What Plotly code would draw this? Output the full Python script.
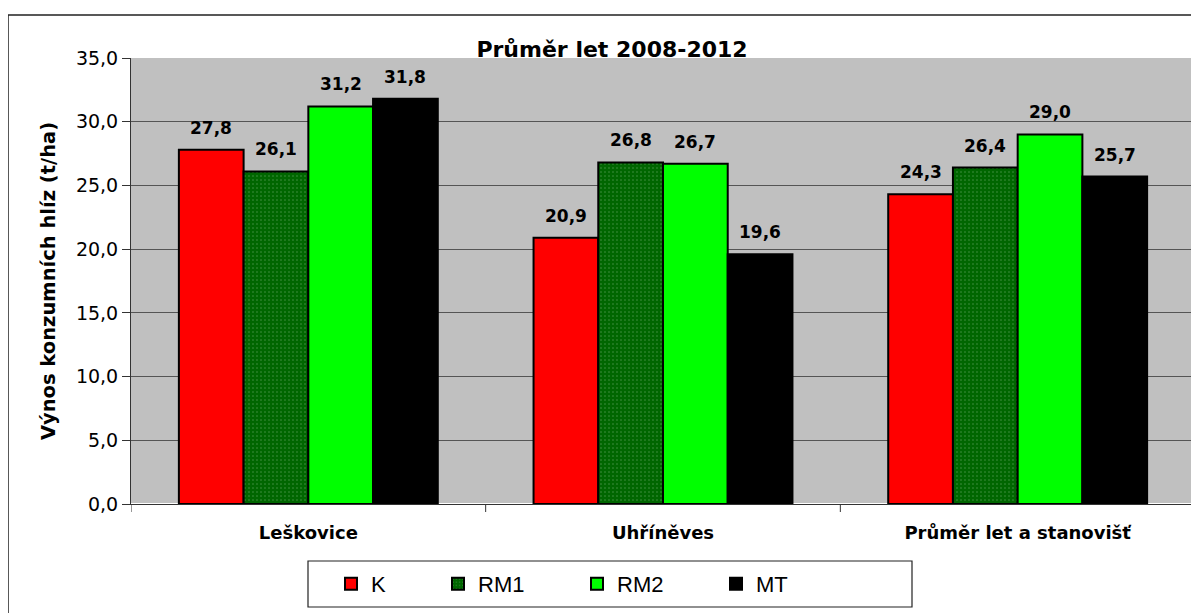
import plotly.graph_objects as go

categories = ["Leškovice", "Uhříněves", "Průměr let a stanovišť"]
series_names = ["K", "RM1", "RM2", "MT"]
values_K = [27.8, 20.9, 24.3]
values_RM1 = [26.1, 26.8, 26.4]
values_RM2 = [31.2, 26.7, 29.0]
values_MT = [31.8, 19.6, 25.7]
y_ticks = [0, 5, 10, 15, 20, 25, 30, 35]

# page has 8px body margin -> figure drawn at (8,8)
OFF = 8
W, H = 1199 - OFF, 613 - OFF
L, T = 131 - OFF, 58 - OFF
R = W - (1195 - OFF)
B = H - (504 - OFF)
pw = W - L - R
ph = H - T - B

FONT = "DejaVu Sans, Liberation Sans, Arial"
BARGAP = 0.27
n = len(series_names)
bw = (1 - BARGAP) / n


def px_x(xp):  # reference pixel -> paper x
    return (xp - 131) / pw


def px_y(yp):  # reference pixel -> paper y
    return (504 - yp) / ph


fig = go.Figure()
series = [values_K, values_RM1, values_RM2, values_MT]
colors = ["#FF0000", "#006600", "#00FF00", "#000000"]
legend_ids = ["legend", "legend2", "legend3", "legend4"]
legend_x = [331, 438, 577, 716]
xs = list(range(len(categories)))
for k, (name, vals, col) in enumerate(zip(series_names, series, colors)):
    marker = dict(color=col, line=dict(color="black", width=2))
    if name == "RM1":
        marker["pattern"] = dict(shape=".", fgcolor="#8fbf8f", bgcolor="#006600", size=4, solidity=0.12)
    fig.add_trace(go.Bar(x=xs, y=vals, name=name, marker=marker, legend=legend_ids[k]))
    for i, v in enumerate(vals):
        fig.add_annotation(x=i - (1 - BARGAP) / 2 + bw * (k + 0.5), y=v, xref="x", yref="y",
                           text=f"<b>{v:.1f}</b>".replace(".", ","), showarrow=False,
                           yanchor="bottom", yshift=10,
                           font=dict(family=FONT, size=17, color="black"))

legend_common = dict(orientation="h", xanchor="left", y=px_y(584), yanchor="middle",
                     borderwidth=0, bgcolor="rgba(0,0,0,0)",
                     font=dict(family="Liberation Sans, Arial", size=22), itemwidth=30)

fig.update_layout(
    width=W, height=H,
    margin=dict(l=L, r=R, t=T, b=B),
    paper_bgcolor="white", plot_bgcolor="#C0C0C0",
    barmode="group", bargap=BARGAP, bargroupgap=0,
    separators=", ",
    font=dict(family=FONT, color="black"),
    title=dict(text="<b>Průměr let 2008-2012</b>", x=(612 - OFF) / W, xanchor="center",
               y=1 - (49 - OFF) / H, yanchor="middle", font=dict(size=22)),
    showlegend=True,
    xaxis=dict(showline=True, linecolor="#333", linewidth=1, ticks="", showgrid=False,
               range=[-0.5, 2.5], tickvals=xs, ticktext=categories,
               tickfont=dict(size=18, weight="bold"), ticklabelstandoff=12),
    yaxis=dict(range=[0, 35], tickvals=y_ticks, tickformat=".1f", showgrid=True, gridcolor="#555",
               gridwidth=1, showline=True, linecolor="#333", linewidth=1, ticks="outside", ticklen=8,
               tickcolor="#333", tickfont=dict(size=19),
               title=dict(text="<b>Výnos konzumních hlíz (t/ha)</b>", font=dict(size=19.5), standoff=15)),
)
for lid, lx in zip(legend_ids, legend_x):
    fig.update_layout({lid: dict(legend_common, x=px_x(lx))})

for xv in [-0.5, 0.5, 1.5, 2.5]:
    fig.add_shape(type="line", xref="x", yref="paper", x0=xv, x1=xv, y0=0, y1=-8 / ph,
                  line=dict(color="#333", width=1))
# outer chart border
fig.add_shape(type="rect", xref="paper", yref="paper",
              x0=px_x(8), x1=px_x(1215), y0=px_y(640), y1=px_y(15),
              line=dict(color="#222", width=1.5), layer="below")
# legend box
fig.add_shape(type="rect", xref="paper", yref="paper",
              x0=px_x(308), x1=px_x(912), y0=px_y(607), y1=px_y(561),
              line=dict(color="#222", width=1.2), fillcolor="white", layer="below")
fig.write_html("out.html")
